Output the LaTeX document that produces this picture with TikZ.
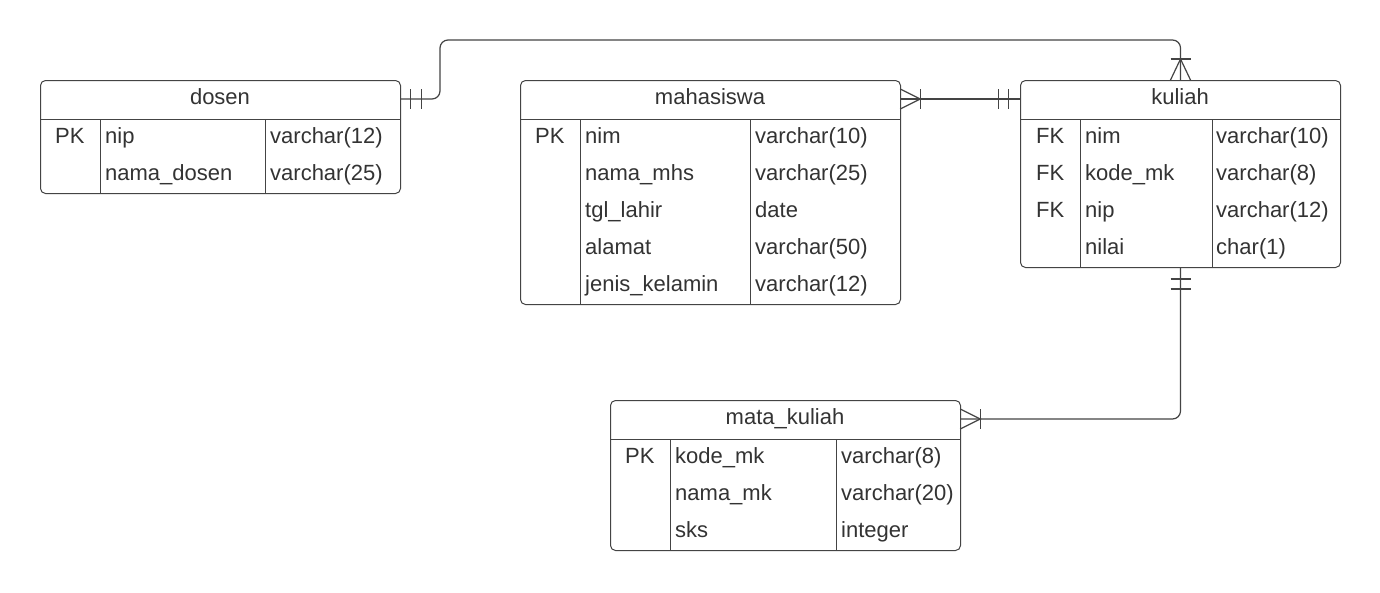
\documentclass[tikz,border=0pt]{standalone}
\usepackage{fontspec}
\setmainfont{Liberation Sans}
\usetikzlibrary{calc}
\definecolor{ink}{HTML}{333333}
\definecolor{edge}{HTML}{444444}
\begin{document}
\begin{tikzpicture}[x=1pt,y=-1pt,
  tbl/.style={draw=edge, line width=1pt, rounded corners=5pt, anchor=north west, inner sep=0pt},
  hdr/.style={inner sep=0pt, minimum height=38pt, text=ink, font=\fontsize{22}{24}\selectfont, text height=15pt, text depth=5pt},
  cell/.style={anchor=base west, inner sep=0pt, text=ink, font=\fontsize{22}{24}\selectfont},
  rule/.style={draw=edge, line width=1pt},
  conn/.style={draw=edge, line width=1.2pt, rounded corners=8pt},
  tick/.style={draw=edge, line width=1.2pt}]
\fill[white] (0,0) rectangle (1380,592);
\useasboundingbox (0,0) rectangle (1380,592);

% ---------- dosen ----------
\node[tbl, minimum width=360pt, minimum height=113pt] (dosen) at (40,80) {};
\node[hdr, minimum width=360pt] (dosen-h) at (220,99) {dosen};
\draw[rule] (40,119) -- (400,119) (100,119) -- (100,193) (265,119) -- (265,193);
\node[cell] (dosen-k1) at (55,143.5) {PK};
\node[cell] (dosen-n1) at (105,143.5) {nip};
\node[cell] (dosen-t1) at (270,143.5) {varchar(12)};
\node[cell] (dosen-n2) at (105,180.5) {nama\_dosen};
\node[cell] (dosen-t2) at (270,180.5) {varchar(25)};

% ---------- mahasiswa ----------
\node[tbl, minimum width=380pt, minimum height=224pt] (mahasiswa) at (520,80) {};
\node[hdr, minimum width=380pt] (mahasiswa-h) at (710,99) {mahasiswa};
\draw[rule] (520,119) -- (900,119) (580,119) -- (580,304) (750,119) -- (750,304);
\node[cell] (mhs-k1) at (535,143.5) {PK};
\node[cell] (mhs-n1) at (585,143.5) {nim};
\node[cell] (mhs-t1) at (755,143.5) {varchar(10)};
\node[cell] (mhs-n2) at (585,180.5) {nama\_mhs};
\node[cell] (mhs-t2) at (755,180.5) {varchar(25)};
\node[cell] (mhs-n3) at (585,217.5) {tgl\_lahir};
\node[cell] (mhs-t3) at (755,217.5) {date};
\node[cell] (mhs-n4) at (585,254.5) {alamat};
\node[cell] (mhs-t4) at (755,254.5) {varchar(50)};
\node[cell] (mhs-n5) at (585,291.5) {jenis\_kelamin};
\node[cell] (mhs-t5) at (755,291.5) {varchar(12)};

% ---------- kuliah ----------
\node[tbl, minimum width=320pt, minimum height=187pt] (kuliah) at (1020,80) {};
\node[hdr, minimum width=320pt] (kuliah-h) at (1180,99) {kuliah};
\draw[rule] (1020,119) -- (1340,119) (1080,119) -- (1080,267) (1212,119) -- (1212,267);
\node[cell] (kul-k1) at (1036,143.5) {FK};
\node[cell] (kul-n1) at (1085,143.5) {nim};
\node[cell] (kul-t1) at (1216,143.5) {varchar(10)};
\node[cell] (kul-k2) at (1036,180.5) {FK};
\node[cell] (kul-n2) at (1085,180.5) {kode\_mk};
\node[cell] (kul-t2) at (1216,180.5) {varchar(8)};
\node[cell] (kul-k3) at (1036,217.5) {FK};
\node[cell] (kul-n3) at (1085,217.5) {nip};
\node[cell] (kul-t3) at (1216,217.5) {varchar(12)};
\node[cell] (kul-n4) at (1085,254.5) {nilai};
\node[cell] (kul-t4) at (1216,254.5) {char(1)};

% ---------- mata_kuliah ----------
\node[tbl, minimum width=350pt, minimum height=150pt] (mk) at (610,400) {};
\node[hdr, minimum width=350pt] (mk-h) at (785,419) {mata\_kuliah};
\draw[rule] (610,439) -- (960,439) (670,439) -- (670,550) (836,439) -- (836,550);
\node[cell] (mk-k1) at (625,463.5) {PK};
\node[cell] (mk-n1) at (675,463.5) {kode\_mk};
\node[cell] (mk-t1) at (841,463.5) {varchar(8)};
\node[cell] (mk-n2) at (675,500.5) {nama\_mk};
\node[cell] (mk-t2) at (841,500.5) {varchar(20)};
\node[cell] (mk-n3) at (675,537.5) {sks};
\node[cell] (mk-t3) at (841,537.5) {integer};

% ---------- connectors ----------
\coordinate (bend1) at (440,40);
\draw[conn] (dosen-h.east) -| (bend1) -| (kuliah.north);
\draw[conn] (mahasiswa-h.east) -- (kuliah-h.west);
\draw[conn] (kuliah.south) |- (mk-h.east);

% dosen end: one and only one
\draw[tick] ($(dosen-h.east)+(10,-10)$) -- ++(0,20);
\draw[tick] ($(dosen-h.east)+(21,-10)$) -- ++(0,20);
% kuliah top: one or many
\draw[tick] ($(kuliah.north)+(-10,0)$) -- ($(kuliah.north)+(0,-21)$) -- ($(kuliah.north)+(10,0)$);
\draw[tick] ($(kuliah.north)+(-10,-21)$) -- ++(20,0);
% mahasiswa end: one or many
\draw[tick] ($(mahasiswa-h.east)+(0,-10)$) -- ($(mahasiswa-h.east)+(20,0)$) -- ($(mahasiswa-h.east)+(0,10)$);
\draw[tick] ($(mahasiswa-h.east)+(20,-10)$) -- ++(0,20);
% kuliah left end: one and only one
\draw[tick] ($(kuliah-h.west)+(-21,-10)$) -- ++(0,20);
\draw[tick] ($(kuliah-h.west)+(-11,-10)$) -- ++(0,20);
% kuliah bottom: one and only one
\draw[tick] ($(kuliah.south)+(-10,11)$) -- ++(20,0);
\draw[tick] ($(kuliah.south)+(-10,21)$) -- ++(20,0);
% mata_kuliah end: one or many
\draw[tick] ($(mk-h.east)+(0,-10)$) -- ($(mk-h.east)+(20,0)$) -- ($(mk-h.east)+(0,10)$);
\draw[tick] ($(mk-h.east)+(20,-10)$) -- ++(0,20);
\end{tikzpicture}
\end{document}
